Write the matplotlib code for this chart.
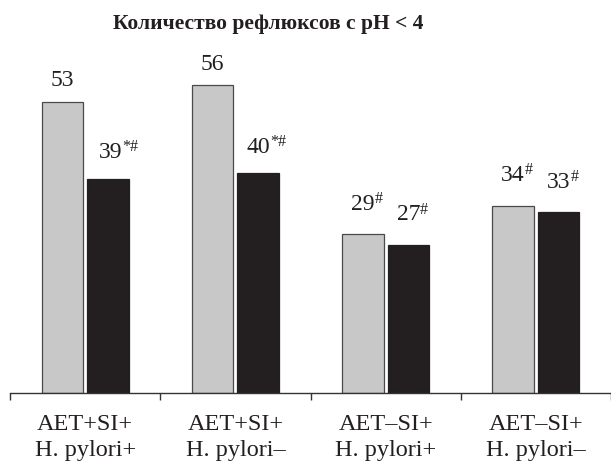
import numpy as np
import matplotlib
matplotlib.use("Agg")
import matplotlib.pyplot as plt

plt.rcParams["font.family"] = ["Liberation Serif", "DejaVu Serif"]

# данные
groups = ["AET+SI+\nH. pylori+", "AET+SI+\nH. pylori\u2013",
          "AET\u2013SI+\nH. pylori+", "AET\u2013SI+\nH. pylori\u2013"]
grey_vals = [53, 56, 29, 34]
black_vals = [39, 40, 27, 33]
grey_marks = ["", "", "#", "#"]
black_marks = ["*#", "*#", "#", "#"]
title = "Количество рефлюксов с pH < 4"

# отступ подписи над столбцом (пиксели) - так в оригинале
grey_gap = [15, 15, 24, 25]
black_gap = [21, 20, 24, 24]

x = np.arange(len(groups))
w = 0.276
off = 0.151
INK = "#231f20"

fig = plt.figure(figsize=(6.11, 4.67), dpi=100)
ax = fig.add_axes([10 / 611, 74 / 467, 601 / 611, 330 / 467])

ax.bar(x - off, grey_vals, w, color="#c8c8c8", edgecolor="#4a4a4a", linewidth=0.9)
ax.bar(x + off, black_vals, w, color=INK, edgecolor=INK, linewidth=0.9)


def label(xi, v, m, gap, dx=0):
    t = ax.annotate(str(v), (xi, v), xytext=(dx, gap * 0.72), textcoords="offset points",
                    ha="center", va="baseline", fontsize=17, color=INK)
    if m:
        ax.annotate(m, xy=(1, 1), xycoords=t, xytext=(0, 2), textcoords="offset points",
                    ha="left", va="top", fontsize=11.5, color=INK)


for xi, v, m, g in zip(x - off, grey_vals, grey_marks, grey_gap):
    label(xi, v, m, g)
for i, (xi, v, m, g) in enumerate(zip(x + off, black_vals, black_marks, black_gap)):
    label(xi, v, m, g, dx=2 if i == 0 else 0)

ax.set_xlim(-0.5, -0.5 + 601 / 152)
ax.set_ylim(0, 60)
for s in ["top", "right", "left"]:
    ax.spines[s].set_visible(False)
ax.spines["bottom"].set_color("#333333")
ax.spines["bottom"].set_linewidth(1.0)
ax.set_yticks([])
ax.set_xticks(np.arange(-0.5, 4, 1.0))
ax.set_xticklabels([])
ax.tick_params(axis="x", which="major", length=5, width=1.0, color="#333333", direction="out")
ax.set_xticks(x, minor=True)
ax.set_xticklabels(groups, minor=True, fontsize=17.5, color=INK, linespacing=1.35)
ax.tick_params(axis="x", which="minor", length=0, pad=15)

fig.text(268 / 611, 1 - 29 / 467, title, ha="center", va="baseline",
         fontsize=15.5, fontweight="bold", color=INK)

fig.savefig("out.png", dpi=100)
